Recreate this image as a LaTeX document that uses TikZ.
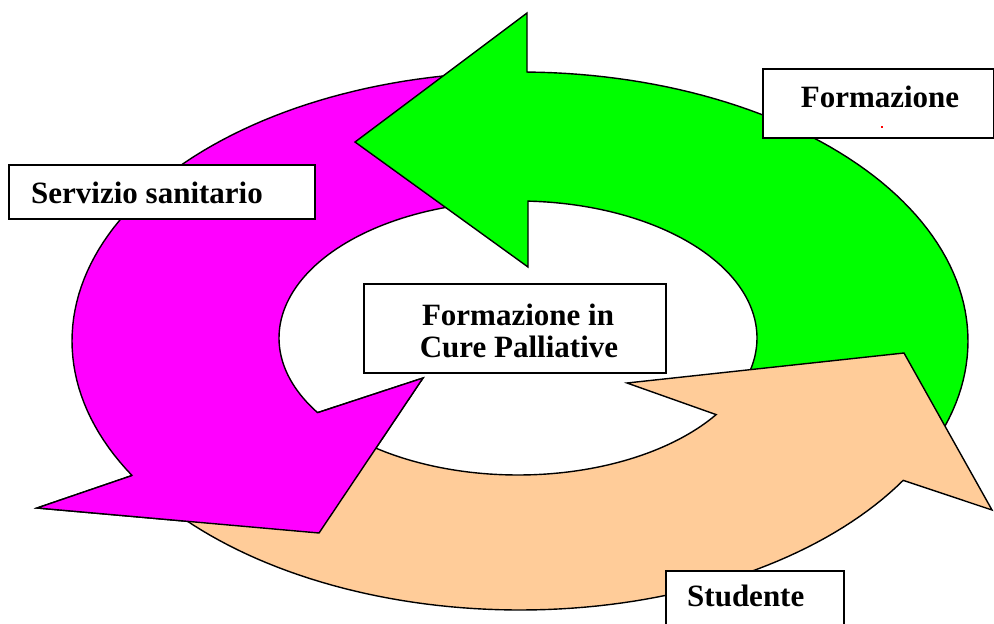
\documentclass[tikz,border=0pt]{standalone}
\usepackage{fontspec}
\setmainfont{Liberation Serif}
\definecolor{mag}{HTML}{FF00FF}
\definecolor{grn}{HTML}{00FF00}
\definecolor{peach}{HTML}{FFCC99}
\begin{document}
\begin{tikzpicture}[x=1pt,y=-1pt,
  arrowshape/.style={draw=black, line width=1.4pt, line join=miter},
  box/.style={draw=black, fill=white, line width=2pt, inner sep=0pt},
  lab/.style={font=\fontsize{31}{32}\selectfont\bfseries, inner sep=0pt}]
\useasboundingbox (0,0) rectangle (994,624);
% magenta arrow (Servizio sanitario)
\filldraw[arrowshape, fill=mag]
  plot[domain=265:150,samples=70,variable=\t] ({520+448*cos(\t)},{341+269*sin(\t)})
  -- (37,508) -- (319,533) -- (423,378)
  -- plot[domain=147:265,samples=70,variable=\t] ({518+239*cos(\t)},{338+137*sin(\t)})
  -- cycle;
% green arrow (Formazione)
\filldraw[arrowshape, fill=grn]
  (527,13)
  -- plot[domain=270.9:385,samples=70,variable=\t] ({520+448*cos(\t)},{341+269*sin(\t)})
  -- plot[domain=385:272.4,samples=70,variable=\t] ({518+239*cos(\t)},{338+137*sin(\t)})
  -- (528,267) -- (355,142) -- cycle;
% peach arrow (Studente)
\filldraw[arrowshape, fill=peach]
  plot[domain=140:31.2,samples=70,variable=\t] ({520+448*cos(\t)},{341+269*sin(\t)})
  -- (992,510) -- (904,353) -- (627,383)
  -- plot[domain=34:140,samples=70,variable=\t] ({518+239*cos(\t)},{338+137*sin(\t)})
  -- cycle;
% magenta head on top of the peach tail
\fill[mag] (37,508) -- (319,533) -- (423,378) -- cycle;
\draw[arrowshape] ({520+448*cos(150)},{341+269*sin(150)}) -- (37,508) -- (319,533) -- (423,378) -- ({518+239*cos(147)},{338+137*sin(147)});
% labels
\node[box, anchor=north west, minimum width=306pt, minimum height=54pt] (sbox) at (8,164) {};
\node[lab, anchor=base west] (stext) at (31,203) {Servizio sanitario};
\node[box, anchor=north west, minimum width=231pt, minimum height=69pt] (fbox) at (762,68) {};
\node[lab, anchor=base] (ftext) at (880,107) {Formazione};
\fill[red] (881,125.5) rectangle (883,127.5);
\node[box, anchor=north west, minimum width=302pt, minimum height=89pt] (cbox) at (363,283) {};
\node[lab, anchor=base] (ctext1) at (518,325) {Formazione in};
\node[lab, anchor=base] (ctext2) at (519,357) {Cure Palliative};
\node[box, anchor=north west, minimum width=178pt, minimum height=70pt] (stbox) at (665,570) {};
\node[lab, anchor=base west] (sttext) at (687,606) {Studente};
\end{tikzpicture}
\end{document}
